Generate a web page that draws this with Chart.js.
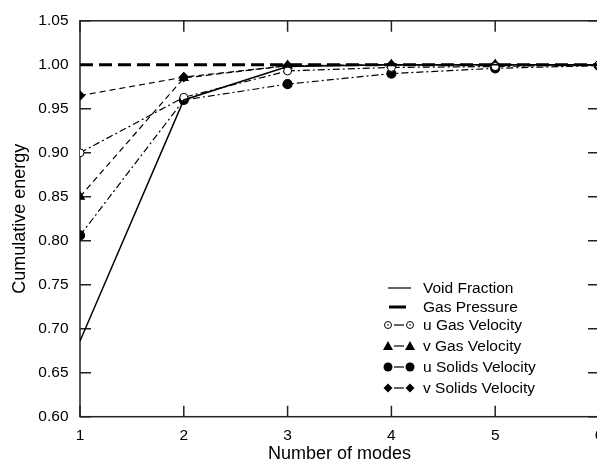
<!DOCTYPE html>
<html>
<head>
<meta charset="utf-8">
<script src="https://cdn.jsdelivr.net/npm/chart.js@4.4.0/dist/chart.umd.min.js"></script>
<style>
  html, body { margin: 0; padding: 0; background: #fff; overflow: hidden; }
</style>
</head>
<body>
<canvas id="chart" width="597" height="464"></canvas>
<script>
const FONT = "'Liberation Sans', Arial, Helvetica, sans-serif";

// Data
const modes = [1, 2, 3, 4, 5, 6];
const yTicks = [0.60, 0.65, 0.70, 0.75, 0.80, 0.85, 0.90, 0.95, 1.00, 1.05];
const seriesNames = ['Void Fraction', 'Gas Pressure', 'u Gas Velocity', 'v Gas Velocity', 'u Solids Velocity', 'v Solids Velocity'];
const voidFraction = [0.686, 0.960, 0.998, 1.000, 1.000, 1.000];
const gasPressure = [1.000, 1.000, 1.000, 1.000, 1.000, 1.000];
const uGasVelocity = [0.900, 0.963, 0.993, 0.997, 0.998, 1.000];
const vGasVelocity = [0.850, 0.985, 0.999, 1.000, 1.000, 1.000];
const uSolidsVelocity = [0.806, 0.960, 0.978, 0.990, 0.996, 0.999];
const vSolidsVelocity = [0.965, 0.986, 0.999, 1.000, 1.000, 1.000];

const DASHDOT = [7, 3, 2, 3];
const DASHED = [6, 4];

function pts(values) {
    return modes.map((m, i) => ({ x: m, y: values[i] }));
}

// The original plot runs a couple of pixels past the right edge of the image
const stretchRight = {
    id: 'stretchRight',
    afterLayout(chart) {
        const a = chart.chartArea;
        const x = chart.scales.x;
        const right = chart.width + 2;
        a.right = right;
        a.width = right - a.left;
        x.right = right;
        x.width = right - x.left;
        x.configure();
    }
};

// Frame with inward ticks (drawn under the data)
const frame = {
    id: 'frame',
    beforeDatasetsDraw(chart) {
        const { ctx, chartArea: a, scales: { x, y } } = chart;
        ctx.save();
        ctx.strokeStyle = '#222';
        ctx.lineWidth = 1.5;
        ctx.strokeRect(a.left, a.top, a.right - a.left, a.bottom - a.top);
        ctx.beginPath();
        yTicks.forEach((v) => {
            const py = y.getPixelForValue(v);
            ctx.moveTo(a.left, py); ctx.lineTo(a.left + 11, py);
            ctx.moveTo(a.right, py); ctx.lineTo(a.right - 11, py);
        });
        modes.forEach((m) => {
            const px = x.getPixelForValue(m);
            ctx.moveTo(px, a.top); ctx.lineTo(px, a.top + 11);
            ctx.moveTo(px, a.bottom); ctx.lineTo(px, a.bottom - 11);
        });
        ctx.stroke();
        ctx.restore();
    }
};

// Legend drawn by hand so the line samples carry their markers
function marker(ctx, style, cx, cy) {
    ctx.beginPath();
    if (style === 'circleOpen') {
        ctx.arc(cx, cy, 3.5, 0, Math.PI * 2);
        ctx.fillStyle = '#fff'; ctx.fill();
        ctx.lineWidth = 1; ctx.stroke();
        ctx.beginPath(); ctx.arc(cx, cy, 0.8, 0, Math.PI * 2);
        ctx.fillStyle = '#000'; ctx.fill();
    } else if (style === 'circle') {
        ctx.arc(cx, cy, 4.5, 0, Math.PI * 2);
        ctx.fillStyle = '#000'; ctx.fill();
    } else if (style === 'triangle') {
        ctx.moveTo(cx, cy - 5); ctx.lineTo(cx + 5, cy + 4); ctx.lineTo(cx - 5, cy + 4); ctx.closePath();
        ctx.fillStyle = '#000'; ctx.fill();
    } else if (style === 'diamond') {
        ctx.moveTo(cx, cy - 4.5); ctx.lineTo(cx + 4.5, cy); ctx.lineTo(cx, cy + 4.5); ctx.lineTo(cx - 4.5, cy); ctx.closePath();
        ctx.fillStyle = '#000'; ctx.fill();
    }
}

const legendRows = [
    { line: 'solid' },
    { line: 'thick' },
    { marker: 'circleOpen' },
    { marker: 'triangle' },
    { marker: 'circle' },
    { marker: 'diamond' }
];
const legendY = [288, 307, 325, 346, 367, 388];

const customLegend = {
    id: 'customLegend',
    afterDraw(chart) {
        const { ctx } = chart;
        ctx.save();
        ctx.strokeStyle = '#000';
        ctx.font = '15.5px ' + FONT;
        ctx.textBaseline = 'middle';
        legendRows.forEach((row, i) => {
            const cy = legendY[i];
            if (row.line === 'solid') {
                ctx.lineWidth = 1.2;
                ctx.beginPath(); ctx.moveTo(388, cy); ctx.lineTo(411, cy); ctx.stroke();
            } else if (row.line === 'thick') {
                ctx.lineWidth = 3;
                ctx.beginPath(); ctx.moveTo(389, cy); ctx.lineTo(406, cy); ctx.stroke();
            } else {
                ctx.lineWidth = 1.2;
                ctx.beginPath(); ctx.moveTo(394, cy); ctx.lineTo(404, cy); ctx.stroke();
                ctx.strokeStyle = '#000';
                marker(ctx, row.marker, 388, cy);
                marker(ctx, row.marker, 410, cy);
            }
            ctx.fillStyle = '#000';
            ctx.fillText(seriesNames[i], 423, cy + 1);
        });
        ctx.restore();
    }
};

const base = { borderColor: '#000', pointBorderColor: '#000', pointBackgroundColor: '#000', tension: 0, fill: false };

new Chart(document.getElementById('chart'), {
    type: 'line',
    data: {
        datasets: [
            { ...base, label: seriesNames[0], data: pts(voidFraction), borderWidth: 1.5, pointRadius: 0 },
            { ...base, label: seriesNames[1], data: pts(gasPressure), borderWidth: 3, borderDash: [13, 6], pointRadius: 0 },
            { ...base, label: seriesNames[2], data: pts(uGasVelocity), borderWidth: 1.2, borderDash: DASHDOT,
              pointStyle: 'circle', pointRadius: 4, pointBackgroundColor: '#fff', pointBorderWidth: 1 },
            { ...base, label: seriesNames[3], data: pts(vGasVelocity), borderWidth: 1.2, borderDash: DASHED,
              pointStyle: 'triangle', pointRadius: 5 },
            { ...base, label: seriesNames[4], data: pts(uSolidsVelocity), borderWidth: 1.2, borderDash: DASHDOT,
              pointStyle: 'circle', pointRadius: 4.5 },
            { ...base, label: seriesNames[5], data: pts(vSolidsVelocity), borderWidth: 1.2, borderDash: DASHED,
              pointStyle: 'rectRot', pointRadius: 4.5 }
        ]
    },
    options: {
        responsive: false,
        devicePixelRatio: 1,
        animation: false,
        layout: { padding: { top: 16, right: 0, left: 0, bottom: 0 } },
        plugins: { legend: { display: false }, tooltip: { enabled: false } },
        scales: {
            x: {
                type: 'linear', min: 1, max: 6,
                afterBuildTicks: (s) => { s.ticks = modes.map((v) => ({ value: v })); },
                afterFit: (s) => { s.height = 47.3; },
                grid: { drawOnChartArea: false, drawTicks: false },
                border: { display: false },
                ticks: { color: '#000', font: { family: FONT, size: 15.5 }, padding: 10, callback: (v) => String(v) },
                title: { display: true, text: 'Number of modes', color: '#000', font: { family: FONT, size: 18 }, padding: { top: 0, bottom: -1 } }
            },
            y: {
                type: 'linear', min: 0.60, max: 1.05,
                afterBuildTicks: (s) => { s.ticks = yTicks.map((v) => ({ value: v })); },
                afterFit: (s) => { s.width = 80; },
                grid: { drawOnChartArea: false, drawTicks: false },
                border: { display: false },
                ticks: { color: '#000', font: { family: FONT, size: 15.5 }, padding: 11.5, callback: (v) => v.toFixed(2) },
                title: { display: true, text: 'Cumulative energy', color: '#000', font: { family: FONT, size: 18 }, padding: { top: 9, bottom: 0 } }
            }
        }
    },
    plugins: [stretchRight, frame, customLegend]
});
</script>
</body>
</html>
